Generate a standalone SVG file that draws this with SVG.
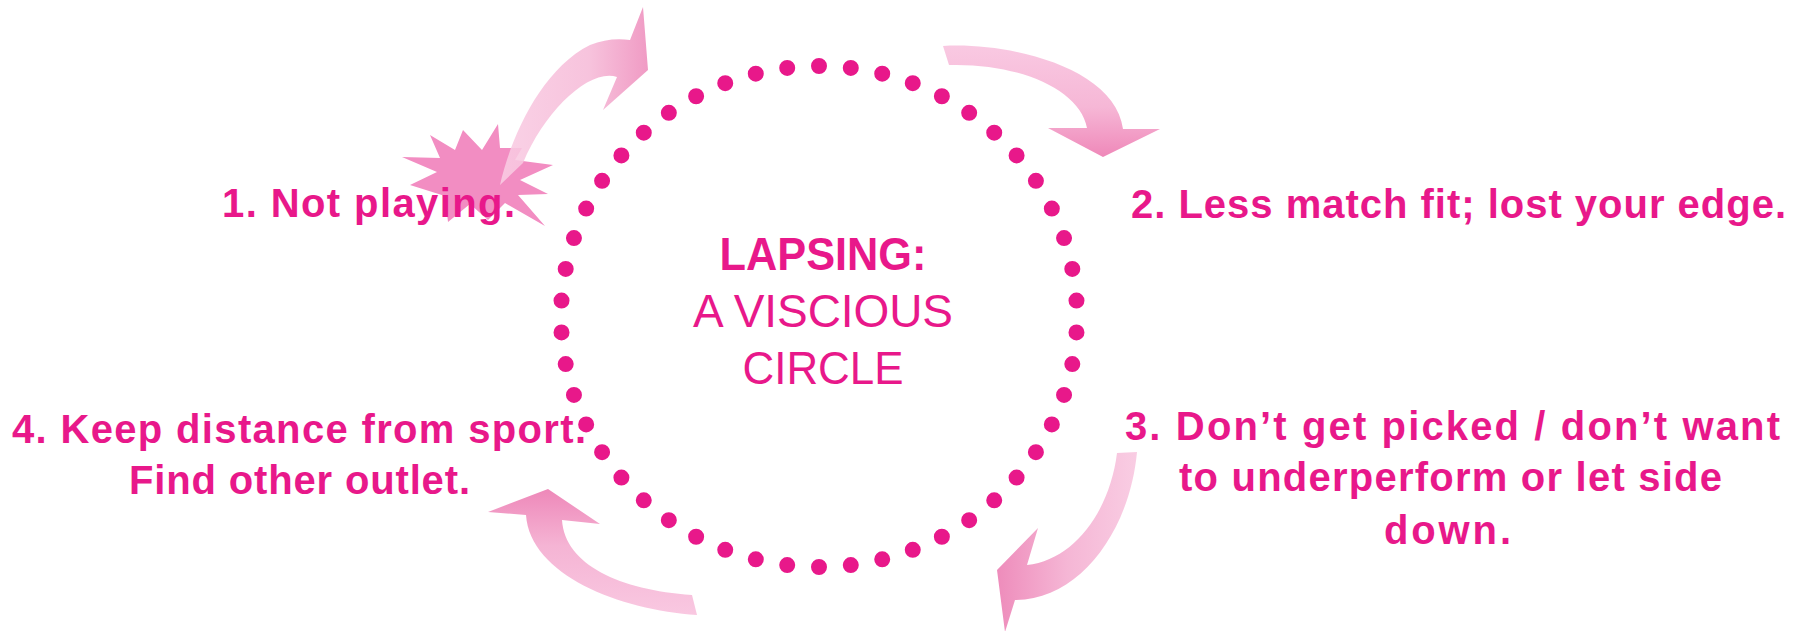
<svg xmlns="http://www.w3.org/2000/svg" width="1809" height="631" viewBox="0 0 1809 631">
  <defs>
    <linearGradient id="g1" x1="0" y1="0" x2="1" y2="0">
      <stop offset="0" stop-color="#F9CCE3"/>
      <stop offset="0.6" stop-color="#F6BBD8"/>
      <stop offset="1" stop-color="#EE8DBC"/>
    </linearGradient>
    <linearGradient id="g2" x1="0" y1="0" x2="0" y2="1">
      <stop offset="0" stop-color="#F9C9E2"/>
      <stop offset="0.55" stop-color="#F6B7D6"/>
      <stop offset="1" stop-color="#EF88B9"/>
    </linearGradient>
    <linearGradient id="g3" x1="0" y1="0" x2="1" y2="0">
      <stop offset="0" stop-color="#EE8CBB"/>
      <stop offset="0.5" stop-color="#F5B6D5"/>
      <stop offset="1" stop-color="#F9CDE3"/>
    </linearGradient>
    <linearGradient id="g4" x1="0" y1="0" x2="0" y2="1">
      <stop offset="0" stop-color="#EE88B9"/>
      <stop offset="0.45" stop-color="#F5B4D4"/>
      <stop offset="1" stop-color="#F9C8E1"/>
    </linearGradient>
  </defs>
  <style>
    .lbl { font-family: "Liberation Sans", Arial, sans-serif; font-weight: bold; font-size: 40px; fill: #E8188A; }
    .ttl { font-family: "Liberation Sans", Arial, sans-serif; font-size: 46px; fill: #E8188A; text-anchor: middle; }
    .dots { fill: none; stroke: #E8188A; stroke-width: 16; stroke-linecap: round; stroke-dasharray: 0 2; stroke-dashoffset: 1; }
  </style>
  <rect width="1809" height="631" fill="#FFFFFF"/>

  <g id="cycle-dots">
    <ellipse class="dots" cx="819" cy="316.5" rx="258" ry="250.5" pathLength="100"/>
  </g>

  <g id="node-1">
    <polygon fill="#F28DC2" points="430,135 455,150 463,130 482,150 498,124 500,148 522,148 515,160 553,165 520,180 548,194 518,195 545,226 505,203 488,220 470,204 448,222 445,196 410,185 437,172 402,157 440,158"/>
  </g>

  <g id="connectors">
    <path id="arrow-1" fill="url(#g1)" fill-opacity="0.88" d="M500,185 C510,140 540,70 590,45 Q610,37 630,40 L643,7 L648,70 L603,110 L617,77 C590,68 545,110 523,163 Z"/>
    <path id="arrow-2" fill="url(#g2)" d="M943,46 C1010,42 1115,68 1123,129 L1160,129 L1103,157 L1048,128 L1087,128 C1080,90 1020,63 949,65 Z"/>
    <path id="arrow-3" fill="url(#g3)" d="M1137,452 C1130,530 1080,600 1015,600 L1005,632 L997,570 L1038,528 L1027,565 C1075,560 1110,510 1117,453 Z"/>
    <path id="arrow-4" fill="url(#g4)" d="M697,615 C620,610 530,575 526,515 L488,512 L548,489 L600,524 L562,520 C565,565 620,590 692,595 Z"/>
  </g>

  <g id="node-1-label">
    <text class="lbl" x="222" y="217" textLength="293" lengthAdjust="spacing">1. Not playing.</text>
  </g>

  <g id="node-2">
    <text class="lbl" x="1131" y="218" textLength="655" lengthAdjust="spacing">2. Less match fit; lost your edge.</text>
  </g>

  <g id="node-3">
    <text class="lbl" x="1125" y="440" textLength="655" lengthAdjust="spacing">3. Don’t get picked / don’t want</text>
    <text class="lbl" x="1179" y="491" textLength="543" lengthAdjust="spacing">to underperform or let side</text>
    <text class="lbl" x="1384" y="544" textLength="127" lengthAdjust="spacing">down.</text>
  </g>

  <g id="node-4">
    <text class="lbl" x="12" y="443" textLength="574" lengthAdjust="spacing">4. Keep distance from sport.</text>
    <text class="lbl" x="129" y="494" textLength="341" lengthAdjust="spacing">Find other outlet.</text>
  </g>

  <g id="center-title">
    <text class="ttl" x="823" y="270" font-weight="bold" font-size="47" textLength="207" lengthAdjust="spacingAndGlyphs">LAPSING:</text>
    <text class="ttl" x="823" y="327" textLength="260" lengthAdjust="spacing">A VISCIOUS</text>
    <text class="ttl" x="823" y="384" textLength="161" lengthAdjust="spacingAndGlyphs">CIRCLE</text>
  </g>
</svg>
